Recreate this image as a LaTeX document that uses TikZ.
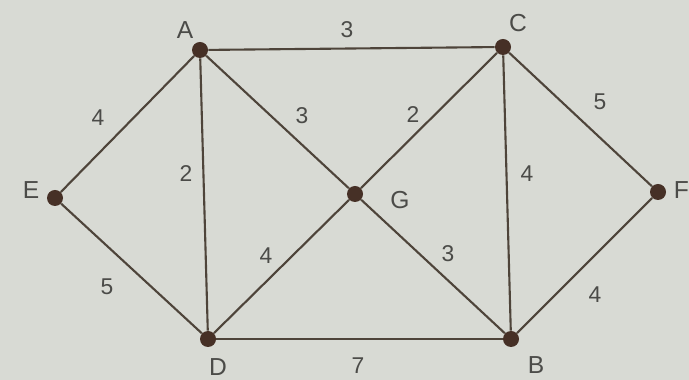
\documentclass[tikz,border=0pt]{standalone}
\usepackage{fontspec}
\setsansfont{Liberation Sans}
\usetikzlibrary{positioning}
\definecolor{paper}{RGB}{216,218,212}
\definecolor{vertexfill}{RGB}{70,48,38}
\definecolor{edgecol}{RGB}{78,68,58}
\definecolor{inkgray}{RGB}{75,75,72}

\begin{document}
\begin{tikzpicture}[
    vertex/.style={circle, fill=vertexfill, minimum size=0.32cm, inner sep=0pt},
    vname/.style={font=\sffamily\fontsize{14}{16}\selectfont, text=inkgray},
    wlabel/.style={font=\sffamily\fontsize{13}{15}\selectfont, text=inkgray},
    edge/.style={draw=edgecol, line width=1.2pt},
]

% background
\fill[paper] (0,0) rectangle (13.78,7.6);
\useasboundingbox (0,0) rectangle (13.78,7.6);

% Vertices
\node[vertex] (A) at (4.00, 6.60) {};
\node[vertex] (C) at (10.06, 6.66) {};
\node[vertex] (E) at (1.10, 3.64) {};
\node[vertex] (G) at (7.10, 3.72) {};
\node[vertex] (F) at (13.16, 3.76) {};
\node[vertex] (D) at (4.16, 0.82) {};
\node[vertex] (B) at (10.22, 0.82) {};

% Vertex names
\node[vname] (nA) at (3.70, 7.00) {A};
\node[vname] (nC) at (10.36, 7.14) {C};
\node[vname] (nE) at (0.62, 3.80) {E};
\node[vname] (nG) at (8.00, 3.60) {G};
\node[vname, anchor=west, inner sep=0pt] (nF) at (13.47, 3.80) {F};
\node[vname] (nD) at (4.36, 0.26) {D};
\node[vname] (nB) at (10.72, 0.30) {B};

% Edges
\draw[edge] (A) -- (C);
\draw[edge] (A) -- (E);
\draw[edge] (A) -- (D);
\draw[edge] (A) -- (G);
\draw[edge] (C) -- (G);
\draw[edge] (C) -- (B);
\draw[edge] (C) -- (F);
\draw[edge] (E) -- (D);
\draw[edge] (D) -- (G);
\draw[edge] (G) -- (B);
\draw[edge] (B) -- (F);
\draw[edge] (D) -- (B);

% Weights
\node[wlabel] (wAC) at (6.94, 7.00) {3};
\node[wlabel] (wAE) at (1.96, 5.24) {4};
\node[wlabel] (wAD) at (3.72, 4.12) {2};
\node[wlabel] (wAG) at (6.04, 5.28) {3};
\node[wlabel] (wCG) at (8.26, 5.30) {2};
\node[wlabel] (wCB) at (10.54, 4.12) {4};
\node[wlabel] (wCF) at (12.00, 5.56) {5};
\node[wlabel] (wED) at (2.14, 1.86) {5};
\node[wlabel] (wDG) at (5.32, 2.48) {4};
\node[wlabel] (wGB) at (8.96, 2.52) {3};
\node[wlabel] (wBF) at (11.90, 1.70) {4};
\node[wlabel] (wDB) at (7.16, 0.28) {7};

\end{tikzpicture}
\end{document}
